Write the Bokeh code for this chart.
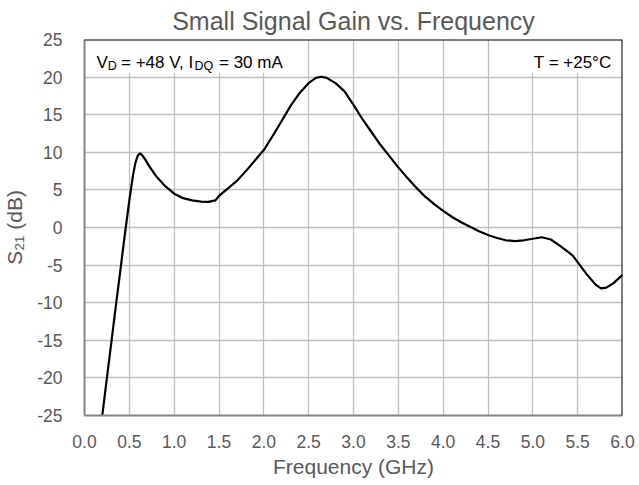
from bokeh.plotting import figure
from bokeh.models import FixedTicker, Label, BoxAnnotation, Range1d, Span
from bokeh.embed import file_html
from bokeh.resources import INLINE

# ---- data ----
freq_ghz = [0.19, 0.25, 0.30, 0.35, 0.40, 0.45, 0.50, 0.54, 0.57, 0.595, 0.62, 0.645, 0.68,
            0.72, 0.80, 0.90, 1.00, 1.10, 1.20, 1.30, 1.38, 1.42, 1.46, 1.50, 1.55, 1.60,
            1.70, 1.80, 1.90, 2.00, 2.10, 2.20, 2.30, 2.40, 2.50, 2.58, 2.64, 2.70, 2.80,
            2.90, 3.00, 3.10, 3.20, 3.30, 3.40, 3.50, 3.60, 3.70, 3.80, 3.90, 4.00, 4.10,
            4.20, 4.30, 4.40, 4.50, 4.60, 4.70, 4.80, 4.90, 5.00, 5.10, 5.20, 5.30, 5.40,
            5.45, 5.50, 5.60, 5.70, 5.76, 5.82, 5.90, 6.00]
s21_db = [-25.8, -20.0, -15.2, -10.4, -5.7, -0.9, 3.6, 6.9, 8.7, 9.6, 9.85, 9.6, 9.0,
          8.2, 6.8, 5.5, 4.5, 3.9, 3.6, 3.45, 3.4, 3.5, 3.6, 4.2, 4.7, 5.2,
          6.2, 7.5, 8.9, 10.3, 12.2, 14.2, 16.2, 17.9, 19.2, 19.9, 20.05, 19.9, 19.2,
          18.1, 16.3, 14.4, 12.7, 11.0, 9.5, 8.0, 6.6, 5.3, 4.1, 3.1, 2.2, 1.4,
          0.7, 0.1, -0.5, -1.0, -1.4, -1.7, -1.8, -1.7, -1.5, -1.3, -1.6, -2.4, -3.3,
          -3.8, -4.6, -6.2, -7.6, -8.1, -8.0, -7.4, -6.3]
x_ticks = [0.0, 0.5, 1.0, 1.5, 2.0, 2.5, 3.0, 3.5, 4.0, 4.5, 5.0, 5.5, 6.0]
x_tick_labels = ["0.0", "0.5", "1.0", "1.5", "2.0", "2.5", "3.0", "3.5", "4.0", "4.5", "5.0", "5.5", "6.0"]
y_ticks = [-25, -20, -15, -10, -5, 0, 5, 10, 15, 20, 25]
y_tick_labels = ["-25", "-20", "-15", "-10", "-5", "0", "5", "10", "15", "20", "25"]

FONT = "Liberation Sans"
GRAY = "#595959"
X0, X1, Y0, Y1 = 0, 6, -25, 25

p = figure(frame_width=538, frame_height=376,
           min_border_left=80, min_border_top=31, min_border_right=13, min_border_bottom=50,
           output_backend="svg", toolbar_location=None,
           x_range=Range1d(X0, X1), y_range=Range1d(Y0, Y1),
           title="Small Signal Gain vs. Frequency")
p.background_fill_color = "white"
p.border_fill_color = "white"
p.outline_line_color = None

p.title.align = "center"
p.title.text_font = FONT
p.title.text_font_size = "25px"
p.title.text_font_style = "normal"
p.title.text_color = GRAY
p.title.standoff = 9
p.title.offset = 0

p.xaxis.ticker = FixedTicker(ticks=x_ticks)
p.xaxis.major_label_overrides = {t: l for t, l in zip(x_ticks, x_tick_labels)}
p.yaxis.ticker = FixedTicker(ticks=y_ticks)
p.yaxis.major_label_overrides = {t: l for t, l in zip(y_ticks, y_tick_labels)}
for ax in (p.xaxis[0], p.yaxis[0]):
    ax.major_tick_line_color = None
    ax.minor_tick_line_color = None
    ax.axis_line_color = "#868686"
    ax.axis_line_width = 2
    ax.major_label_text_font = FONT
    ax.major_label_text_font_size = "17.5px"
    ax.major_label_text_color = GRAY
    ax.axis_label_text_font = FONT
    ax.axis_label_text_font_size = "21px"
    ax.axis_label_text_font_style = "normal"
    ax.axis_label_text_color = GRAY
p.xaxis.axis_label = "Frequency (GHz)"
p.yaxis.axis_label = "S\u2082\u2081 (dB)"
p.xaxis.major_label_standoff = 13
p.yaxis.major_label_standoff = 16
p.xaxis.axis_label_standoff = 4
p.yaxis.axis_label_standoff = 8

p.grid.grid_line_color = "#c0c0c0"
p.grid.grid_line_width = 1.3
p.xgrid.ticker = FixedTicker(ticks=x_ticks)
p.ygrid.ticker = FixedTicker(ticks=y_ticks)

# white boxes behind the condition texts
p.add_layout(BoxAnnotation(left=0, right=2.4, bottom=20.6, top=25,
                           fill_color="white", fill_alpha=1, line_color=None, level="underlay"))
p.add_layout(BoxAnnotation(left=4.6, right=6, bottom=20.6, top=25,
                           fill_color="white", fill_alpha=1, line_color=None, level="underlay"))

p.line(freq_ghz, s21_db, line_color="black", line_width=2.2)

# black top and right plot-area border
p.add_layout(Span(location=Y1, dimension="width", line_color="black", line_width=2))
p.add_layout(Span(location=X1, dimension="height", line_color="black", line_width=2))

# condition text with subscripts
MAIN = "17px"
SUB = "12.5px"
segments = [("V", MAIN, 12.0, 0.0), ("D", SUB, 23.3, -3.5), ("= +48 V, I", MAIN, 36.5, 0.0),
            ("DQ", SUB, 110.0, -3.5), ("= 30 mA", MAIN, 134.5, 0.0)]
for txt, size, xo, yo in segments:
    p.add_layout(Label(x=X0, y=Y1, x_offset=xo, y_offset=-22.7 + yo, text=txt,
                       text_font=FONT, text_font_size=size, text_color="black",
                       text_baseline="alphabetic", text_align="left"))
p.add_layout(Label(x=X1, y=Y1, x_offset=-11, y_offset=-22.7, text="T = +25\u00b0C",
                   text_font=FONT, text_font_size=MAIN, text_color="black",
                   text_baseline="alphabetic", text_align="right"))

open("out.html", "w").write(file_html(p, INLINE))
